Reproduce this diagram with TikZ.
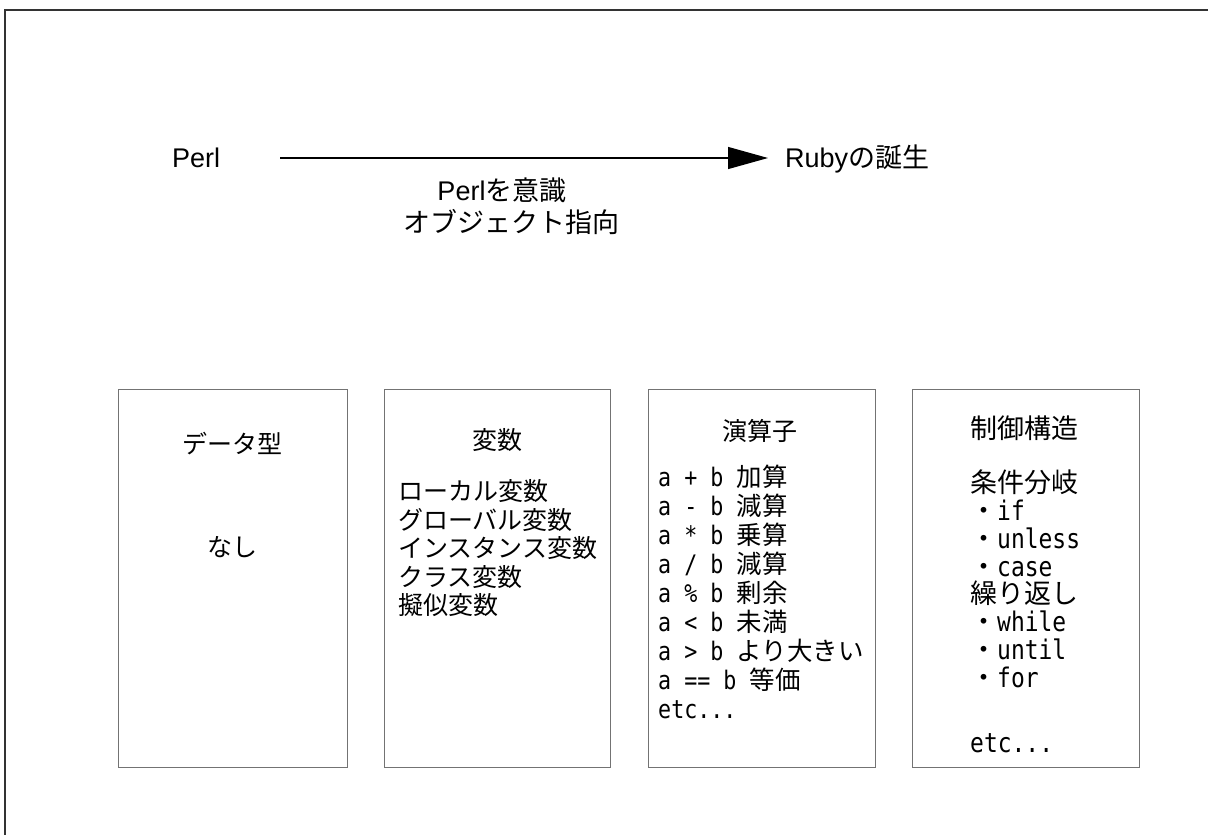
\documentclass[tikz,border=0pt]{standalone}
\usepackage{fontspec}
\setmainfont{Noto Sans CJK JP}
\newfontfamily\arl{Liberation Sans}
\newfontfamily\mnf[FakeStretch=0.85]{DejaVu Sans Mono}
\usetikzlibrary{arrows.meta}
\begin{document}
\begin{tikzpicture}[x=1pt,y=-1pt,
  ctxt/.style={inner sep=0pt, anchor=base},
  ltxt/.style={inner sep=0pt, anchor=base west},
  boxnode/.style={draw=black!55, line width=1.2pt, inner sep=0pt, minimum height=378pt, anchor=north west},
  big/.style={font=\fontsize{27}{32}\selectfont},
  mid/.style={font=\fontsize{25}{30}\selectfont},
  mono/.style={font=\fontsize{25.5}{30}\selectfont},
  monob/.style={font=\fontsize{27}{30}\selectfont},
  arr/.style={line width=1.2pt, -{Triangle[length=40pt,width=22pt]}}
]
\useasboundingbox (0,0) rectangle (1208,835);
% frame
\draw[line width=2pt, black!80] (5,835) -- (5,10) -- (1208,10);

% top
\node[ltxt, big] (perl) at (172,167.7) {\arl Perl};
\node[ltxt, big] (ruby) at (785,167.7) {{\arl Ruby}の誕生};
\draw[arr] ([xshift=60pt,yshift=9.7pt]perl.base east) -- ([xshift=-17pt,yshift=9.7pt]ruby.base west);
\node[ctxt, big] (sub1) at (502,200) {{\arl Perl}を意識};
\node[ctxt, big] (sub2) at (511,232) {オブジェクト指向};

% boxes
\node[boxnode, minimum width=229pt] (b1) at (118,389) {};
\node[boxnode, minimum width=226pt] (b2) at (384,389) {};
\node[boxnode, minimum width=227pt] (b3) at (648,389) {};
\node[boxnode, minimum width=227pt] (b4) at (912,389) {};

% box 1
\node[ctxt, mid] (t1) at (232.5,453.5) {データ型};
\node[ctxt, mid] (n1) at (232.5,556.5) {なし};

% box 2
\node[ctxt, mid] (t2) at (497,449.5) {変数};
\node[ltxt, mid] (v1) at (398,500.5) {ローカル変数};
\node[ltxt, mid] (v2) at (398,529) {グローバル変数};
\node[ltxt, mid] (v3) at (398,557.5) {インスタンス変数};
\node[ltxt, mid] (v4) at (398,586) {クラス変数};
\node[ltxt, mid] (v5) at (398,614.5) {擬似変数};

% box 3
\node[ctxt, mid] (t3) at (760,440.5) {演算子};
\node[ltxt, mono] (o1) at (658,486) {{\mnf a + b }加算};
\node[ltxt, mono] (o2) at (658,515) {{\mnf a - b }減算};
\node[ltxt, mono] (o3) at (658,544) {{\mnf a * b }乗算};
\node[ltxt, mono] (o4) at (658,573) {{\mnf a / b }減算};
\node[ltxt, mono] (o5) at (658,602) {{\mnf a \% b }剰余};
\node[ltxt, mono] (o6) at (658,631) {{\mnf a < b }未満};
\node[ltxt, mono] (o7) at (658,660) {{\mnf a > b }より大きい};
\node[ltxt, mono] (o8) at (658,689) {{\mnf a == b }等価};
\node[ltxt, mono] (o9) at (658,718) {{\mnf etc...}};

% box 4
\node[ltxt, monob] (t4) at (970,438.3) {制御構造};
\node[ltxt, monob] (c1) at (970,492.3) {条件分岐};
\node[ltxt, monob] (c2) at (970,520.2) {・{\mnf if}};
\node[ltxt, monob] (c3) at (970,548.1) {・{\mnf unless}};
\node[ltxt, monob] (c4) at (970,576) {・{\mnf case}};
\node[ltxt, monob] (c5) at (970,603.9) {繰り返し};
\node[ltxt, monob] (c6) at (970,631.8) {・{\mnf while}};
\node[ltxt, monob] (c7) at (970,659.7) {・{\mnf until}};
\node[ltxt, monob] (c8) at (970,687.6) {・{\mnf for}};
\node[ltxt, monob] (c9) at (970,752) {{\mnf etc...}};
\end{tikzpicture}
\end{document}
